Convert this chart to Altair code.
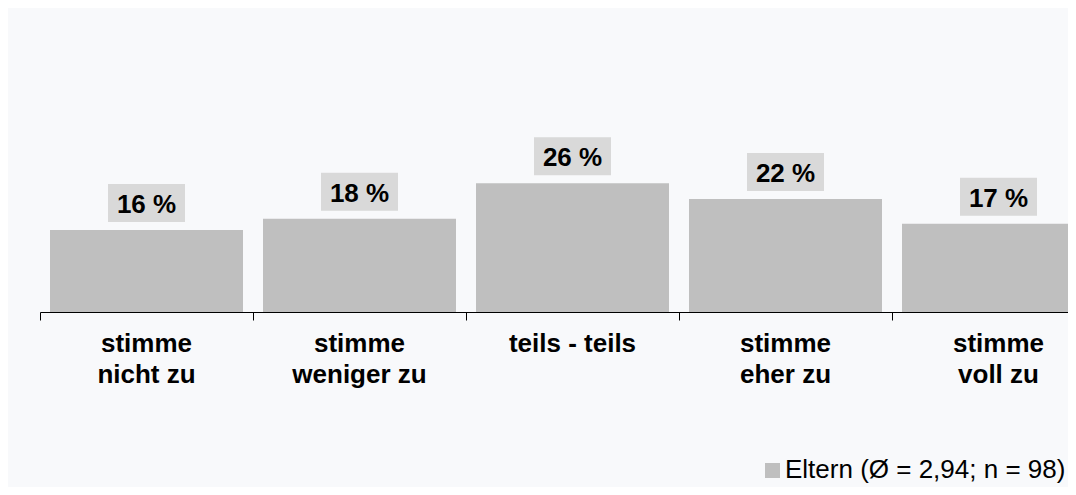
import altair as alt
import pandas as pd

categories = ["stimme\nnicht zu", "stimme\nweniger zu", "teils - teils", "stimme\neher zu", "stimme\nvoll zu"]
values = [16.2, 18.4, 25.4, 22.3, 17.4]
value_labels = ["16 %", "18 %", "26 %", "22 %", "17 %"]
legend_label = "Eltern (Ø = 2,94; n = 98)"

BAR = "#bfbfbf"
BOX = "#d9d9d9"
BG = "#f8f9fb"
FONT = "Liberation Sans"

df = pd.DataFrame({"cat": categories, "val": values, "lab": value_labels})
leg = pd.DataFrame({"t": [legend_label]})

xenc = alt.X("cat:N", sort=categories,
             scale=alt.Scale(range=[0, 1065], paddingInner=0, paddingOuter=0),
             axis=alt.Axis(labels=False, title=None, domain=True, domainColor="black",
                           domainWidth=1, ticks=True, tickColor="black", tickSize=8,
                           tickWidth=1, tickBand="extent", grid=False))
yenc = alt.Y("val:Q", scale=alt.Scale(domain=[0, 60]), axis=None)

base = alt.Chart(df)

bars = base.mark_bar(width=193, color=BAR).encode(x=xenc, y=yenc)

boxes = base.mark_point(
    shape="M-1,-0.4935L1,-0.4935L1,0.4935L-1,0.4935Z",
    size=5929, filled=True, fill=BOX, opacity=1, strokeWidth=0, yOffset=-27
).encode(x=xenc, y=yenc)

texts = base.mark_text(
    font=FONT, fontSize=26, fontWeight="bold", color="black",
    baseline="alphabetic", dy=-17
).encode(x=xenc, y=yenc, text="lab:N")

cats = base.mark_text(
    font=FONT, fontSize=26, fontWeight="bold", color="black",
    baseline="alphabetic", lineBreak="\n", lineHeight=31
).encode(x=xenc, y=alt.value(344), text="cat:N")

leg_sq = alt.Chart(leg).mark_square(size=225, color=BAR, opacity=1).encode(
    x=alt.value(732.5), y=alt.value(462.5))
leg_tx = alt.Chart(leg).mark_text(
    font=FONT, fontSize=26, color="black", align="left", baseline="alphabetic"
).encode(x=alt.value(745), y=alt.value(470), text="t:N")

chart = alt.layer(bars, boxes, texts, cats, leg_sq, leg_tx).properties(
    width=1028, height=304,
    background=BG,
    padding={"left": 32, "top": 0, "right": 0, "bottom": 175},
    autosize=alt.AutoSizeParams(type="none"),
).configure_view(strokeWidth=0)

chart.save("out.html", embed_options={"renderer": "svg", "actions": False})
